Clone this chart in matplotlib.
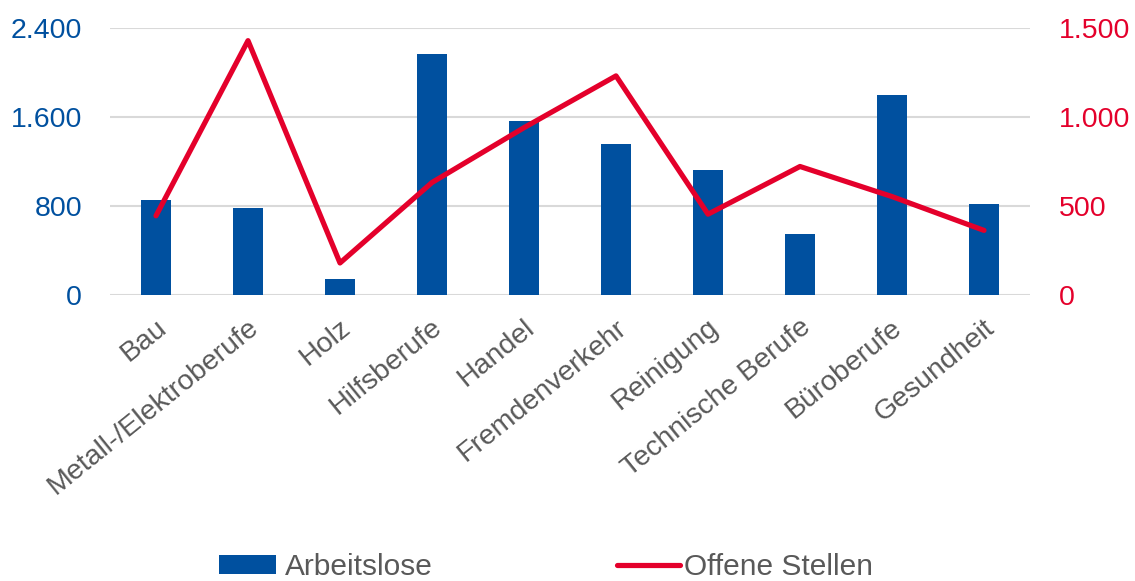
import matplotlib
matplotlib.use("Agg")
import matplotlib.pyplot as plt
from matplotlib.ticker import FuncFormatter, FixedLocator
from matplotlib.transforms import ScaledTranslation

categories = ["Bau", "Metall-/Elektroberufe", "Holz", "Hilfsberufe", "Handel",
              "Fremdenverkehr", "Reinigung", "Technische Berufe", "Büroberufe", "Gesundheit"]
arbeitslose = [856, 778, 144, 2164, 1565, 1356, 1122, 548, 1796, 817]
offene_stellen = [445, 1429, 180, 632, 940, 1231, 454, 722, 553, 363]
left_ticks = [0, 800, 1600, 2400]
right_ticks = [0, 500, 1000, 1500]

BLUE = "#00509F"
RED = "#E4002B"
GRAY = "#595959"
GRID = "#D9D9D9"
FS = 20.5

plt.rcParams['font.family'] = ['Liberation Sans', 'DejaVu Sans']

fig = plt.figure(figsize=(11.35, 5.81), dpi=100)
ax = fig.add_axes([110/1135, 1-295/581, 920/1135, 267/581])
ax2 = ax.twinx()

x = list(range(len(categories)))
bars = ax.bar(x, arbeitslose, width=0.326, color=BLUE, zorder=3, label="Arbeitslose")
line, = ax2.plot(x, offene_stellen, color=RED, lw=3.75, solid_joinstyle='round',
                 solid_capstyle='round', zorder=4, label="Offene Stellen")

fmt = FuncFormatter(lambda v, p: f"{int(v):,}".replace(",", "."))
ax.set_xlim(-0.5, len(categories) - 0.5)
ax.set_ylim(0, 2400)
ax2.set_ylim(0, 1500)
ax.yaxis.set_major_locator(FixedLocator(left_ticks))
ax2.yaxis.set_major_locator(FixedLocator(right_ticks))
ax.yaxis.set_major_formatter(fmt)
ax2.yaxis.set_major_formatter(fmt)

ax.grid(axis='y', color=GRID, lw=1.5, zorder=0)
ax.set_axisbelow(True)
for a in (ax, ax2):
    for s in a.spines.values():
        s.set_visible(False)
    a.tick_params(length=0)

ax.tick_params(axis='y', labelsize=FS, labelcolor=BLUE, pad=20)
ax2.tick_params(axis='y', labelsize=FS, labelcolor=RED, pad=21)
ax.set_xticks(x)
labels = ax.set_xticklabels(categories, rotation=39, ha='right', va='top',
                            rotation_mode='anchor', fontsize=FS, color=GRAY)
ax.tick_params(axis='x', pad=14)
off = ScaledTranslation(-1/100, 0, fig.dpi_scale_trans)
for lab in labels:
    lab.set_transform(lab.get_transform() + off)

ax.set_zorder(ax2.get_zorder() - 1)
ax.patch.set_visible(True)
ax2.patch.set_visible(False)

leg_y = 1 - 567/581
leg1 = fig.legend([bars], ["Arbeitslose"], loc='center left',
                  bbox_to_anchor=(219/1135, leg_y), frameon=False, borderpad=0,
                  borderaxespad=0, fontsize=21.5, handlelength=1.9, handleheight=0.6,
                  handletextpad=0.3)
leg2 = fig.legend([line], ["Offene Stellen"], loc='center left',
                  bbox_to_anchor=(617/1135, leg_y), frameon=False, borderpad=0,
                  borderaxespad=0, fontsize=21.5, handlelength=2.1, handleheight=0.6,
                  handletextpad=0.15)
for leg in (leg1, leg2):
    for t in leg.get_texts():
        t.set_color(GRAY)

fig.savefig("out.png", dpi=100)
